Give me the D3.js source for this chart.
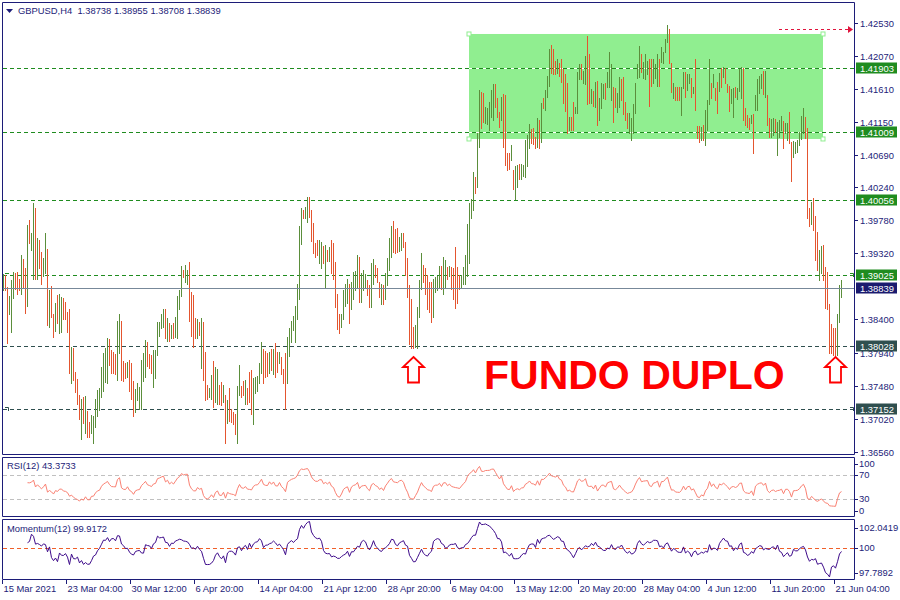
<!DOCTYPE html>
<html><head><meta charset="utf-8">
<script src="https://cdn.jsdelivr.net/npm/d3@7"></script>
<style>
html,body{margin:0;padding:0;background:#fff;}
svg{display:block;}
text{font-family:"Liberation Sans",Arial,sans-serif;}
</style></head><body>
<svg id="chart" width="900" height="600"></svg>
<script>
// ---------------- DATA (GBPUSD H4) ----------------
const highs = [1.3903,1.3902,1.3885,1.3872,1.3895,1.3906,1.3904,1.3906,1.3897,1.3930,1.3924,1.3911,1.3972,1.3979,1.3960,1.4002,1.3995,1.3953,1.3951,1.3934,1.3925,1.3960,1.3938,1.3881,1.3886,1.3847,1.3863,1.3874,1.3876,1.3871,1.3870,1.3865,1.3851,1.3854,1.3802,1.3800,1.3767,1.3757,1.3735,1.3730,1.3732,1.3733,1.3712,1.3698,1.3707,1.3705,1.3730,1.3742,1.3744,1.3774,1.3793,1.3800,1.3814,1.3813,1.3798,1.3795,1.3792,1.3838,1.3848,1.3838,1.3782,1.3779,1.3781,1.3784,1.3779,1.3754,1.3743,1.3751,1.3746,1.3784,1.3793,1.3812,1.3809,1.3792,1.3791,1.3798,1.3798,1.3837,1.3837,1.3847,1.3854,1.3854,1.3842,1.3835,1.3833,1.3835,1.3844,1.3872,1.3881,1.3914,1.3909,1.3916,1.3909,1.3920,1.3878,1.3874,1.3842,1.3840,1.3837,1.3842,1.3837,1.3795,1.3749,1.3744,1.3763,1.3782,1.3774,1.3771,1.3749,1.3753,1.3749,1.3735,1.3728,1.3744,1.3716,1.3711,1.3708,1.3747,1.3777,1.3747,1.3754,1.3756,1.3744,1.3767,1.3770,1.3758,1.3760,1.3761,1.3779,1.3809,1.3799,1.3796,1.3793,1.3795,1.3799,1.3799,1.3807,1.3795,1.3795,1.3788,1.3771,1.3793,1.3816,1.3828,1.3838,1.3845,1.3859,1.3890,1.3970,1.3995,1.3993,1.3997,1.4011,1.4011,1.3993,1.3974,1.3946,1.3951,1.3951,1.3948,1.3942,1.3944,1.3937,1.3941,1.3951,1.3946,1.3920,1.3876,1.3847,1.3847,1.3881,1.3890,1.3896,1.3890,1.3892,1.3906,1.3907,1.3930,1.3927,1.3904,1.3909,1.3903,1.3895,1.3888,1.3918,1.3924,1.3916,1.3911,1.3892,1.3890,1.3888,1.3904,1.3925,1.3953,1.3970,1.3977,1.3966,1.3967,1.3955,1.3960,1.3960,1.3948,1.3925,1.3888,1.3868,1.3830,1.3833,1.3858,1.3895,1.3932,1.3916,1.3911,1.3902,1.3892,1.3892,1.3897,1.3899,1.3900,1.3914,1.3914,1.3927,1.3923,1.3913,1.3914,1.3913,1.3911,1.3941,1.3913,1.3902,1.3902,1.3913,1.3930,1.3973,1.4002,1.4007,1.4045,1.4038,1.4099,1.4160,1.4157,1.4155,1.4136,1.4134,1.4143,1.4160,1.4168,1.4168,1.4148,1.4129,1.4150,1.4154,1.4153,1.4071,1.4071,1.4083,1.4048,1.4053,1.4055,1.4057,1.4057,1.4055,1.4090,1.4097,1.4112,1.4105,1.4106,1.4094,1.4120,1.4118,1.4141,1.4148,1.4160,1.4179,1.4216,1.4222,1.4216,1.4200,1.4202,1.4197,1.4202,1.4189,1.4182,1.4169,1.4122,1.4122,1.4143,1.4136,1.4185,1.4195,1.4196,1.4186,1.4206,1.4234,1.4209,1.4161,1.4158,1.4171,1.4172,1.4148,1.4169,1.4168,1.4169,1.4185,1.4212,1.4195,1.4164,1.4162,1.4155,1.4178,1.4175,1.4178,1.4143,1.4127,1.4127,1.4120,1.4140,1.4169,1.4195,1.4220,1.4210,1.4199,1.4209,1.4200,1.4202,1.4202,1.4202,1.4195,1.4210,1.4202,1.4219,1.4212,1.4231,1.4250,1.4244,1.4197,1.4169,1.4164,1.4164,1.4164,1.4164,1.4185,1.4185,1.4181,1.4181,1.4176,1.4164,1.4203,1.4109,1.4109,1.4108,1.4111,1.4132,1.4146,1.4202,1.4169,1.4181,1.4162,1.4171,1.4183,1.4190,1.4192,1.4190,1.4167,1.4165,1.4161,1.4162,1.4164,1.4162,1.4188,1.4192,1.4190,1.4134,1.4125,1.4120,1.4125,1.4126,1.4153,1.4174,1.4179,1.4181,1.4186,1.4186,1.4153,1.4120,1.4119,1.4120,1.4119,1.4115,1.4118,1.4123,1.4116,1.4113,1.4113,1.4129,1.4087,1.4088,1.4087,1.4090,1.4101,1.4123,1.4134,1.4122,1.4106,1.3995,1.4004,1.4009,1.3984,1.3962,1.3937,1.3942,1.3944,1.3913,1.3906,1.3861,1.3834,1.3828,1.3828,1.3847,1.3888,1.38955];
const lows = [1.3881,1.3881,1.3807,1.3847,1.3823,1.3870,1.3883,1.3876,1.3881,1.3876,1.3885,1.3849,1.3859,1.3946,1.3937,1.3897,1.3897,1.3897,1.3911,1.3890,1.3900,1.3904,1.3833,1.3830,1.3844,1.3816,1.3824,1.3835,1.3821,1.3823,1.3840,1.3840,1.3823,1.3765,1.3751,1.3756,1.3739,1.3723,1.3701,1.3673,1.3696,1.3682,1.3677,1.3677,1.3682,1.3668,1.3691,1.3705,1.3714,1.3732,1.3740,1.3753,1.3751,1.3777,1.3765,1.3765,1.3764,1.3756,1.3793,1.3756,1.3754,1.3758,1.3760,1.3740,1.3729,1.3705,1.3711,1.3728,1.3716,1.3715,1.3754,1.3760,1.3775,1.3772,1.3765,1.3746,1.3758,1.3791,1.3817,1.3828,1.3830,1.3814,1.3810,1.3810,1.3814,1.3814,1.3816,1.3814,1.3855,1.3872,1.3899,1.3892,1.3890,1.3838,1.3817,1.3802,1.3814,1.3814,1.3819,1.3772,1.3756,1.3728,1.3730,1.3732,1.3730,1.3718,1.3725,1.3722,1.3722,1.3721,1.3725,1.3668,1.3696,1.3699,1.3698,1.3695,1.3680,1.3668,1.3735,1.3732,1.3735,1.3723,1.3723,1.3725,1.3709,1.3694,1.3737,1.3740,1.3751,1.3765,1.3751,1.3760,1.3761,1.3765,1.3770,1.3764,1.3760,1.3767,1.3779,1.3764,1.3751,1.3716,1.3751,1.3789,1.3809,1.3826,1.3809,1.3840,1.3868,1.3945,1.3981,1.3981,1.3976,1.3983,1.3949,1.3932,1.3927,1.3930,1.3918,1.3911,1.3918,1.3885,1.3921,1.3921,1.3904,1.3896,1.3858,1.3827,1.3821,1.3830,1.3841,1.3859,1.3863,1.3835,1.3855,1.3868,1.3881,1.3885,1.3865,1.3865,1.3881,1.3885,1.3874,1.3858,1.3858,1.3890,1.3899,1.3892,1.3871,1.3862,1.3861,1.3868,1.3888,1.3909,1.3927,1.3934,1.3932,1.3934,1.3935,1.3937,1.3941,1.3902,1.3871,1.3806,1.3800,1.3800,1.3802,1.3800,1.3844,1.3882,1.3892,1.3876,1.3854,1.3851,1.3837,1.3844,1.3878,1.3881,1.3885,1.3883,1.3876,1.3885,1.3897,1.3900,1.3883,1.3868,1.3856,1.3863,1.3882,1.3885,1.3890,1.3890,1.3900,1.3918,1.3981,1.3993,1.4016,1.4025,1.4080,1.4106,1.4115,1.4113,1.4112,1.4104,1.4122,1.4118,1.4136,1.4122,1.4108,1.4118,1.4080,1.4055,1.4048,1.4050,1.4062,1.4022,1.4007,1.4025,1.4036,1.4036,1.4039,1.4038,1.4053,1.4078,1.4085,1.4084,1.4078,1.4080,1.4078,1.4087,1.4134,1.4132,1.4150,1.4165,1.4183,1.4182,1.4182,1.4183,1.4179,1.4171,1.4141,1.4130,1.4099,1.4104,1.4104,1.4104,1.4127,1.4127,1.4174,1.4174,1.4169,1.4168,1.4140,1.4141,1.4141,1.4137,1.4136,1.4111,1.4118,1.4134,1.4148,1.4147,1.4164,1.4164,1.4146,1.4115,1.4136,1.4129,1.4136,1.4146,1.4126,1.4118,1.4106,1.4099,1.4090,1.4099,1.4127,1.4176,1.4178,1.4185,1.4176,1.4174,1.4182,1.4137,1.4165,1.4169,1.4176,1.4165,1.4165,1.4199,1.4197,1.4212,1.4226,1.4197,1.4157,1.4148,1.4146,1.4146,1.4146,1.4125,1.4162,1.4150,1.4160,1.4169,1.4150,1.4155,1.4132,1.4092,1.4087,1.4090,1.4090,1.4083,1.4104,1.4140,1.4148,1.4164,1.4146,1.4127,1.4158,1.4164,1.4178,1.4169,1.4157,1.4130,1.4141,1.4122,1.4150,1.4147,1.4158,1.4148,1.4118,1.4111,1.4108,1.4105,1.4113,1.4071,1.4132,1.4132,1.4155,1.4162,1.4154,1.4150,1.4111,1.4094,1.4094,1.4097,1.4101,1.4069,1.4094,1.4104,1.4078,1.4099,1.4090,1.4085,1.4033,1.4066,1.4071,1.4073,1.4083,1.4091,1.4099,1.4092,1.3981,1.3970,1.3973,1.3965,1.3923,1.3909,1.3895,1.3904,1.3895,1.3856,1.3854,1.3793,1.3793,1.3791,1.3791,1.3791,1.3837,1.38708];
const closes = [1.3899,1.3885,1.3823,1.3868,1.3881,1.3899,1.3888,1.3882,1.3881,1.3918,1.3893,1.3862,1.3949,1.3948,1.3956,1.3981,1.3917,1.3942,1.3920,1.3899,1.3920,1.3949,1.3854,1.3871,1.3852,1.3821,1.3855,1.3844,1.3866,1.3868,1.3845,1.3842,1.3828,1.3784,1.3792,1.3764,1.3744,1.3730,1.3707,1.3719,1.3703,1.3723,1.3684,1.3681,1.3702,1.3703,1.3722,1.3735,1.3739,1.3765,1.3782,1.3791,1.3802,1.3784,1.3772,1.3771,1.3770,1.3821,1.3837,1.3772,1.3760,1.3758,1.3777,1.3749,1.3739,1.3714,1.3736,1.3742,1.3744,1.3770,1.3785,1.3802,1.3782,1.3777,1.3771,1.3788,1.3791,1.3827,1.3833,1.3842,1.3849,1.3823,1.3835,1.3816,1.3828,1.3819,1.3838,1.3862,1.3875,1.3906,1.3900,1.3906,1.3907,1.3855,1.3830,1.3816,1.3814,1.3834,1.3823,1.3828,1.3772,1.3742,1.3735,1.3742,1.3756,1.3730,1.3758,1.3767,1.3728,1.3726,1.3744,1.3682,1.3721,1.3708,1.3702,1.3698,1.3685,1.3732,1.3768,1.3739,1.3736,1.3749,1.3728,1.3726,1.3722,1.3746,1.3756,1.3757,1.3774,1.3800,1.3770,1.3764,1.3763,1.3789,1.3775,1.3792,1.3770,1.3768,1.3792,1.3768,1.3756,1.3732,1.3803,1.3820,1.3833,1.3841,1.3849,1.3881,1.3949,1.3986,1.3983,1.3994,1.4004,1.3988,1.3958,1.3941,1.3931,1.3930,1.3944,1.3945,1.3923,1.3932,1.3924,1.3937,1.3914,1.3906,1.3870,1.3837,1.3827,1.3844,1.3872,1.3883,1.3889,1.3847,1.3885,1.3897,1.3902,1.3921,1.3876,1.3896,1.3900,1.3902,1.3878,1.3863,1.3906,1.3917,1.3902,1.3896,1.3875,1.3885,1.3866,1.3897,1.3918,1.3945,1.3962,1.3942,1.3939,1.3937,1.3951,1.3956,1.3945,1.3911,1.3882,1.3823,1.3814,1.3806,1.3826,1.3847,1.3885,1.3923,1.3896,1.3883,1.3863,1.3859,1.3848,1.3886,1.3895,1.3896,1.3909,1.3889,1.3917,1.3918,1.3900,1.3911,1.3897,1.3893,1.3890,1.3888,1.3885,1.3897,1.3909,1.3921,1.3959,1.3986,1.4001,1.4035,1.4021,1.4084,1.4144,1.4116,1.4115,1.4132,1.4133,1.4136,1.4153,1.4158,1.4143,1.4127,1.4112,1.4143,1.4095,1.4074,1.4052,1.4050,1.4078,1.4028,1.4043,1.4049,1.4041,1.4053,1.4055,1.4080,1.4088,1.4105,1.4090,1.4088,1.4081,1.4112,1.4087,1.4137,1.4136,1.4154,1.4174,1.4206,1.4192,1.4189,1.4186,1.4199,1.4183,1.4178,1.4151,1.4140,1.4113,1.4118,1.4108,1.4106,1.4133,1.4174,1.4190,1.4178,1.4183,1.4199,1.4160,1.4155,1.4157,1.4141,1.4164,1.4123,1.4143,1.4162,1.4164,1.4151,1.4181,1.4188,1.4192,1.4146,1.4140,1.4150,1.4169,1.4151,1.4136,1.4123,1.4111,1.4115,1.4118,1.4132,1.4161,1.4190,1.4212,1.4190,1.4195,1.4197,1.4199,1.4174,1.4169,1.4190,1.4193,1.4202,1.4172,1.4209,1.4210,1.4227,1.4245,1.4206,1.4165,1.4167,1.4150,1.4148,1.4147,1.4157,1.4181,1.4157,1.4176,1.4179,1.4155,1.4162,1.4134,1.4097,1.4091,1.4104,1.4094,1.4122,1.4137,1.4189,1.4153,1.4176,1.4148,1.4136,1.4178,1.4169,1.4188,1.4174,1.4160,1.4137,1.4157,1.4160,1.4153,1.4160,1.4182,1.4185,1.4132,1.4115,1.4111,1.4108,1.4122,1.4083,1.4148,1.4165,1.4174,1.4178,1.4161,1.4179,1.4119,1.4099,1.4115,1.4118,1.4105,1.4111,1.4113,1.4119,1.4085,1.4111,1.4112,1.4094,1.4043,1.4084,1.4085,1.4087,1.4097,1.4116,1.4127,1.4098,1.3993,1.3976,1.3997,1.3973,1.3935,1.3920,1.3928,1.3935,1.3904,1.3868,1.3863,1.3807,1.3802,1.3798,1.3795,1.3835,1.3874,1.38839];

const dateTickBars = [0,32,64,96,128,160,192,224,256,288,320,352,384,416];
const dateTickLabels = ["15 Mar 2021","23 Mar 04:00","30 Mar 12:00","6 Apr 20:00","14 Apr 04:00","21 Apr 12:00","28 Apr 20:00","6 May 04:00","13 May 12:00","20 May 20:00","28 May 04:00","4 Jun 12:00","11 Jun 20:00","21 Jun 04:00"];
const priceTicks = [1.42530,1.42070,1.41610,1.41150,1.40690,1.40240,1.39780,1.39320,1.38400,1.37940,1.37480,1.37020,1.36560];
const greenLevels = [1.41903,1.41009,1.40056,1.39025];
const darkLevels = [1.38028,1.37152];
const lastPrice = 1.38839;
const headerText = "GBPUSD,H4  1.38738 1.38955 1.38708 1.38839";
const zoneBars = [233,410];
const zonePrices = [1.40912,1.42373];
const targetArrowBars = [388,424.5];
const targetArrowPrice = 1.42449;
const bottomMarkerBars = [205,416];
const bottomMarkerPrice = 1.37878;
const titleText = "FUNDO DUPLO";
const titleBar = 240.5;
const titlePrice = 1.37432;
const rsiLabel = "RSI(12) 43.3733";
const rsiTicks = [100,70,30,0];
const rsiLevels = [70,30];
const momLabel = "Momentum(12) 99.9172";
const momTicks = [102.0419,100,97.7892];
const momLevel = 100;
const indPeriod = 12;

// ---------------- LAYOUT ----------------
const NAVY = "#1c1c78", GREEN = "#5b8e3b", RED = "#e4552f";
const LVLGREEN = "#1f8c1f", LVLDARK = "#2f4f4f";
const svg = d3.select("#chart");
svg.append("rect").attr("width",900).attr("height",600).attr("fill","#fff");

const x = d3.scaleLinear().domain([0,419]).range([3,841]);
const y = d3.scaleLinear().domain([1.36560,1.42530]).range([451.7,22.7]);
const yr = d3.scaleLinear().domain([0,100]).range([517,457]);
const ym = d3.scaleLinear().domain([97.7892,102.0419]).range([579,519]);
const L = 2.5, R = 854.5;
const fmt5 = d3.format(".5f");

const defs = svg.append("defs");
defs.append("clipPath").attr("id","clipMain").append("rect").attr("x",3).attr("y",3).attr("width",851).attr("height",451);
defs.append("clipPath").attr("id","clipRsi").append("rect").attr("x",3).attr("y",458).attr("width",851).attr("height",58);
defs.append("clipPath").attr("id","clipMom").append("rect").attr("x",3).attr("y",520).attr("width",851).attr("height",59);

const main = svg.append("g").attr("clip-path","url(#clipMain)");

// zone rectangle
main.append("rect")
  .attr("x",x(zoneBars[0])).attr("y",y(zonePrices[1]))
  .attr("width",x(zoneBars[1])-x(zoneBars[0])).attr("height",y(zonePrices[0])-y(zonePrices[1]))
  .attr("fill","#90ee90");

// level lines
function hline(p,color){
  const yy = Math.round(y(p))+0.5;
  main.append("line").attr("x1",3).attr("x2",854).attr("y1",yy).attr("y2",yy).attr("stroke","#fff").attr("stroke-width",1);
  main.append("line").attr("x1",3).attr("x2",854).attr("y1",yy).attr("y2",yy).attr("stroke",color).attr("stroke-width",1).attr("stroke-dasharray","4,3");
}
greenLevels.forEach(p=>hline(p,LVLGREEN));
darkLevels.forEach(p=>hline(p,LVLDARK));

// bars
main.append("g").selectAll("rect").data(highs).join("rect")
  .attr("x",(d,i)=>Math.round(x(i)))
  .attr("y",d=>Math.round(y(d)))
  .attr("width",1)
  .attr("height",(d,i)=>Math.max(1,Math.round(y(lows[i]))-Math.round(y(d))+1))
  .attr("fill",(d,i)=> (i===0 || closes[i]>=closes[i-1]) ? GREEN : RED);

// last price line
{
  const yy = Math.round(y(lastPrice))+0.5;
  main.append("line").attr("x1",3).attr("x2",854).attr("y1",yy).attr("y2",yy).attr("stroke","#778899").attr("stroke-width",1);
}

// zone handles
[[0,1],[0,0],[1,1],[1,0]].forEach(([a,b])=>{
  main.append("rect").attr("x",x(zoneBars[a])-2).attr("y",y(zonePrices[b])-2).attr("width",4).attr("height",4)
    .attr("fill","#fff").attr("stroke","#90ee90").attr("stroke-width",1);
});

// small level anchors
main.append("path").attr("d",`M5,${Math.round(y(greenLevels[3]))-1.5}H9`).attr("stroke",LVLGREEN).attr("fill","none");
main.append("path").attr("d",`M5,${Math.round(y(darkLevels[1]))-1.5}H8.5V${Math.round(y(darkLevels[1]))+2}`).attr("stroke",LVLDARK).attr("fill","none");
main.append("path").attr("d",`M850,${Math.round(y(greenLevels[3]))-1.5}H853.5V${Math.round(y(greenLevels[3]))+2}`).attr("stroke",LVLGREEN).attr("fill","none");
main.append("path").attr("d",`M850,${Math.round(y(darkLevels[1]))-1.5}H853.5V${Math.round(y(darkLevels[1]))+2}`).attr("stroke",LVLDARK).attr("fill","none");

// target dashed arrow
{
  const yy = Math.round(y(targetArrowPrice))+0.5;
  const x1 = x(targetArrowBars[0]), x2 = x(targetArrowBars[1]);
  svg.append("line").attr("x1",x1).attr("x2",x2-4).attr("y1",yy).attr("y2",yy).attr("stroke","#e0143c").attr("stroke-dasharray","3,3");
  svg.append("path").attr("d",`M${x2-4},${yy-3.5}L${x2+1},${yy}L${x2-4},${yy+3.5}Z`).attr("fill","#e0143c");
}

// up arrows (double bottom markers)
bottomMarkerBars.forEach(b=>{
  const tx = x(b)+0.5, ty = y(bottomMarkerPrice);
  const pts = [[0,0],[10.5,10],[5.5,10],[5.5,25.5],[-5.5,25.5],[-5.5,10],[-10.5,10]];
  main.append("path").attr("d","M"+pts.map(p=>(tx+p[0])+","+(ty+p[1])).join("L")+"Z")
    .attr("fill","#fff").attr("stroke","#ff0000").attr("stroke-width",1.8).attr("stroke-linejoin","miter");
});

// title text
main.append("text").attr("x",x(titleBar)).attr("y",y(titlePrice))
  .attr("font-size",41).attr("font-weight","bold").attr("fill","#ff0000")
  .style("font-family","'Liberation Sans',Arial,sans-serif").text(titleText);

// header
svg.append("path").attr("d","M6,9L13,9L9.5,13Z").attr("fill",NAVY);
svg.append("text").attr("x",18).attr("y",14).attr("font-size",9.4).attr("fill",NAVY).style("white-space","pre").text(headerText);

// ---------------- INDICATORS ----------------
const rsi = new Array(closes.length).fill(null);
{
  let ag=0, al=0;
  for(let i=1;i<=indPeriod;i++){const d=closes[i]-closes[i-1]; if(d>0) ag+=d; else al-=d;}
  ag/=indPeriod; al/=indPeriod;
  rsi[indPeriod] = al===0?100:100-100/(1+ag/al);
  for(let i=indPeriod+1;i<closes.length;i++){
    const d=closes[i]-closes[i-1];
    ag=(ag*(indPeriod-1)+Math.max(d,0))/indPeriod;
    al=(al*(indPeriod-1)+Math.max(-d,0))/indPeriod;
    rsi[i]= al===0?100:100-100/(1+ag/al);
  }
}
const mom = closes.map((c,i)=> i>=indPeriod ? c/closes[i-indPeriod]*100 : null);

const gR = svg.append("g").attr("clip-path","url(#clipRsi)");
rsiLevels.forEach(v=>{
  const yy=Math.round(yr(v))+0.5;
  gR.append("line").attr("x1",3).attr("x2",854).attr("y1",yy).attr("y2",yy).attr("stroke","#c0c0c0").attr("stroke-dasharray","4,3");
});
gR.append("path").datum(rsi.map((v,i)=>[i,v]).filter(d=>d[1]!==null))
  .attr("d",d3.line().x(d=>x(d[0])+0.5).y(d=>yr(d[1])))
  .attr("fill","none").attr("stroke","#fa8072").attr("stroke-width",1);

const gM = svg.append("g").attr("clip-path","url(#clipMom)");
{
  const yy=Math.round(ym(momLevel))+0.5;
  gM.append("line").attr("x1",3).attr("x2",854).attr("y1",yy).attr("y2",yy).attr("stroke","#f0602a").attr("stroke-dasharray","4,3");
}
gM.append("path").datum(mom.map((v,i)=>[i,v]).filter(d=>d[1]!==null))
  .attr("d",d3.line().x(d=>x(d[0])+0.5).y(d=>ym(d[1])))
  .attr("fill","none").attr("stroke","#3d0a8a").attr("stroke-width",1);

svg.append("text").attr("x",7).attr("y",469).attr("font-size",9.4).attr("fill",NAVY).text(rsiLabel);
svg.append("text").attr("x",7).attr("y",532).attr("font-size",9.4).attr("fill",NAVY).text(momLabel);

// ---------------- FRAMES ----------------
const frame = svg.append("g").attr("fill","none").attr("stroke",NAVY).attr("stroke-width",1);
frame.append("path").attr("d",`M${R},2.5H${L}V454.5H${R}V2.5`);
frame.append("path").attr("d",`M${R},457.5H${L}V516.5H${R}V457.5`);
frame.append("path").attr("d",`M${R},519.5H${L}V579.5H${R}V519.5`);

// ---------------- PRICE AXIS ----------------
const ax = svg.append("g");
priceTicks.forEach(p=>{
  const yy = Math.round(y(p))+0.5;
  ax.append("line").attr("x1",855).attr("x2",858).attr("y1",yy).attr("y2",yy).attr("stroke",NAVY);
  ax.append("text").attr("x",860).attr("y",yy).attr("dy","0.35em").attr("font-size",9.4).attr("fill",NAVY).text(fmt5(p));
});
function boxLabel(p,bg){
  const yy = Math.round(y(p))+0.5;
  ax.append("rect").attr("x",856).attr("y",yy-6).attr("width",41).attr("height",11).attr("fill",bg);
  ax.append("text").attr("x",860).attr("y",yy).attr("dy","0.35em").attr("font-size",9.4).attr("fill","#fff").text(fmt5(p));
}
greenLevels.forEach(p=>boxLabel(p,"#1f8c1f"));
boxLabel(lastPrice,"#1a1a6e");
darkLevels.forEach(p=>boxLabel(p,"#2f4f4f"));

rsiTicks.forEach(v=>{
  const yy = Math.min(Math.max(yr(v),463.5),510.5);
  ax.append("line").attr("x1",855).attr("x2",858).attr("y1",Math.round(yy)+0.5).attr("y2",Math.round(yy)+0.5).attr("stroke",NAVY);
  ax.append("text").attr("x",859).attr("y",yy).attr("dy","0.35em").attr("font-size",9.4).attr("fill",NAVY).text(v);
});
momTicks.forEach(v=>{
  const yy = Math.min(Math.max(ym(v),527.5),572.5);
  ax.append("line").attr("x1",855).attr("x2",858).attr("y1",Math.round(yy)+0.5).attr("y2",Math.round(yy)+0.5).attr("stroke",NAVY);
  ax.append("text").attr("x",859).attr("y",yy).attr("dy","0.35em").attr("font-size",9.4).attr("fill",NAVY).text(v);
});

// ---------------- TIME AXIS ----------------
dateTickBars.forEach((b,k)=>{
  const xx = Math.round(x(b))-0.5;
  ax.append("line").attr("x1",xx).attr("x2",xx).attr("y1",580).attr("y2",584).attr("stroke",NAVY);
  ax.append("text").attr("x",xx+1).attr("y",592).attr("font-size",9.4).attr("fill",NAVY).text(dateTickLabels[k]);
});
</script>
</body></html>
